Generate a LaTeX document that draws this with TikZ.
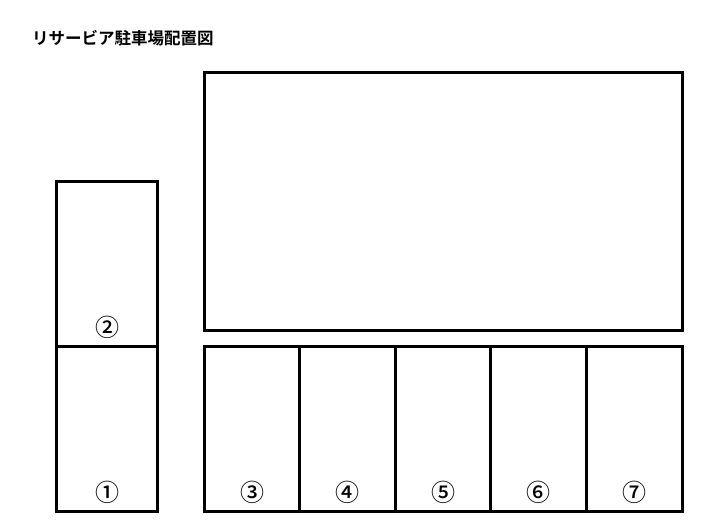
\documentclass[tikz,border=0pt]{standalone}
\usepackage{fontspec}
\newfontfamily\jp{Noto Sans CJK JP Medium}
\newfontfamily\jpb{Noto Sans CJK JP Bold}
\begin{document}
\begin{tikzpicture}[x=1pt,y=-1pt,
  lot/.style={draw=black,line width=3pt,inner sep=0pt,outer sep=0pt},
  num/.style={font=\jp\fontsize{24}{24}\selectfont,inner sep=0pt,anchor=center}]
\useasboundingbox[fill=white] (0,0) rectangle (724,520);
\node[font=\jpb\fontsize{16.5}{16.5}\selectfont,anchor=west,inner sep=0pt] (title) at (32,38) {リサービア駐車場配置図};
% building
\draw[lot] (204,72) rectangle (682,330);
% left column
\draw[lot] (56,181) rectangle (157,346);
\draw[lot] (56,346) rectangle (157,511);
% bottom row
\foreach \i/\a/\b in {3/204/299.6,4/299.6/395.2,5/395.2/490.8,6/490.8/586.4,7/586.4/682}{
  \draw[lot] (\a,346) rectangle (\b,511);
}
\node[num] (n2) at (107,327) {②};
\node[num] (n1) at (107,492) {①};
\node[num] (n3) at (252,492) {③};
\node[num] (n4) at (347.5,492) {④};
\node[num] (n5) at (443,492) {⑤};
\node[num] (n6) at (538.5,492) {⑥};
\node[num] (n7) at (634,492) {⑦};
\end{tikzpicture}
\end{document}
